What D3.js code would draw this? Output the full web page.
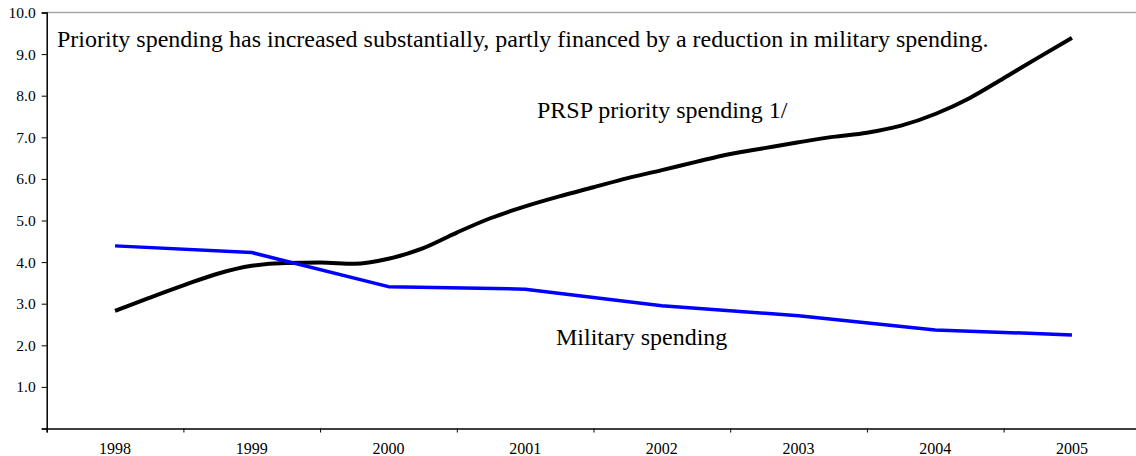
<!DOCTYPE html>
<html>
<head>
<meta charset="utf-8">
<script src="https://cdn.jsdelivr.net/npm/d3@7"></script>
<style>
  body { margin: 0; background: #fff; }
  svg { display: block; }
  text { font-family: "Liberation Serif", "Times New Roman", serif; fill: #000; }
</style>
</head>
<body>
<div id="chart"></div>
<script>
// years on the axis
var years = [1998, 1999, 2000, 2001, 2002, 2003, 2004, 2005];
var yTicks = [0, 1, 2, 3, 4, 5, 6, 7, 8, 9, 10];

// quarterly points, 1998 to 2005 (percent of GDP)
var priorityTime = [1998, 1998.25, 1998.5, 1998.75, 1999, 1999.25, 1999.5, 1999.75,
  2000, 2000.25, 2000.5, 2000.75, 2001, 2001.25, 2001.5, 2001.75,
  2002, 2002.25, 2002.5, 2002.75, 2003, 2003.25, 2003.5, 2003.75,
  2004, 2004.25, 2004.5, 2004.75, 2005];
var priorityValues = [2.83, 3.14, 3.44, 3.72, 3.91, 3.98, 3.99, 3.96,
  4.08, 4.33, 4.71, 5.06, 5.34, 5.58, 5.80, 6.02,
  6.21, 6.41, 6.60, 6.74, 6.88, 7.01, 7.11, 7.28,
  7.56, 7.94, 8.42, 8.91, 9.39];

var militaryValues = [4.39, 4.23, 3.41, 3.35, 2.95, 2.71, 2.37, 2.25];

var width = 1136, height = 456;
var marginLeft = 46.7, plotTop = 12.5, plotBottom = 428.5;

var svg = d3.select("#chart").append("svg")
  .attr("width", width)
  .attr("height", height);

var x = d3.scaleLinear()
  .domain([1997.5, 2005.5])
  .range([marginLeft, marginLeft + 136.7 * 8]);

var y = d3.scaleLinear()
  .domain([0, 10])
  .range([plotBottom, plotTop]);

// grey line at the top of the plot
svg.append("line")
  .attr("x1", marginLeft).attr("x2", width)
  .attr("y1", y(10)).attr("y2", y(10))
  .attr("stroke", "#a6a6a6")
  .attr("stroke-width", 1.5);

// y axis
var yAxis = svg.append("g")
  .attr("transform", "translate(" + marginLeft + ",0)")
  .call(d3.axisLeft(y).tickValues(yTicks).tickSize(5)
    .tickFormat(function(d) { return d === 0 ? "" : d3.format(".1f")(d); }));
yAxis.attr("font-family", null).attr("font-size", null);
yAxis.select(".domain").attr("stroke", "#000").attr("stroke-width", 1.5);
yAxis.selectAll(".tick line").attr("stroke", "#000");
yAxis.selectAll(".tick text")
  .attr("x", -11)
  .style("font-size", "15.5px");

// x axis: tick marks between years
var boundaries = d3.range(1997.5, 2005.5, 1);
var xAxis = svg.append("g")
  .attr("transform", "translate(0," + plotBottom + ")")
  .call(d3.axisBottom(x).tickValues(boundaries).tickSize(4).tickFormat(""));
xAxis.select(".domain").attr("stroke", "#000").attr("stroke-width", 1.5);
xAxis.selectAll(".tick line").attr("stroke", "#000");

svg.selectAll("text.year")
  .data(years)
  .enter().append("text")
    .attr("class", "year")
    .attr("x", function(d) { return x(d); })
    .attr("y", 454)
    .attr("text-anchor", "middle")
    .style("font-size", "16px")
    .text(function(d) { return d; });

// lines
var priorityLine = d3.line()
  .x(function(d, i) { return x(priorityTime[i]); })
  .y(function(d) { return y(d); })
  .curve(d3.curveMonotoneX);

svg.append("path")
  .attr("d", priorityLine(priorityValues))
  .attr("fill", "none")
  .attr("stroke", "#000")
  .attr("stroke-width", 4)
  .attr("stroke-linejoin", "round");

var militaryLine = d3.line()
  .x(function(d, i) { return x(years[i]); })
  .y(function(d) { return y(d); });

svg.append("path")
  .attr("d", militaryLine(militaryValues))
  .attr("fill", "none")
  .attr("stroke", "#0000ff")
  .attr("stroke-width", 3.5)
  .attr("stroke-linejoin", "round");

// labels
svg.append("text")
  .attr("x", 57)
  .attr("y", 47)
  .style("font-size", "24px")
  .text("Priority spending has increased substantially, partly financed by a reduction in military spending.");

svg.append("text")
  .attr("x", 537)
  .attr("y", 118)
  .style("font-size", "24px")
  .text("PRSP priority spending 1/");

svg.append("text")
  .attr("x", 556)
  .attr("y", 345)
  .style("font-size", "24px")
  .text("Military spending");
</script>
</body>
</html>
